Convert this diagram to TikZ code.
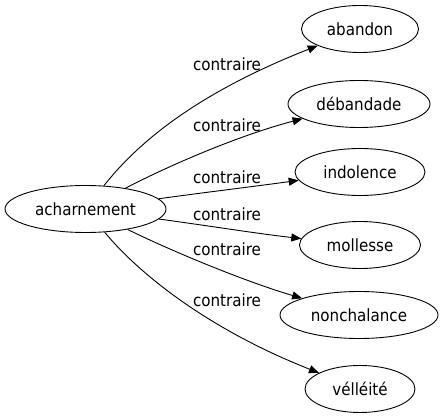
\documentclass[tikz,border=0pt]{standalone}
\usepackage{fontspec}
\setmainfont{DejaVu Sans Condensed}
\usetikzlibrary{shapes.geometric,arrows.meta}
\tikzset{
  word/.style={ellipse,draw,line width=0.9pt,inner sep=0pt,font=\fontsize{16.8}{18}\selectfont},
  rel/.style={font=\fontsize{16.8}{18}\selectfont,inner sep=0pt},
  link/.style={line width=0.9pt,-{Triangle[length=10pt,width=8pt]}}
}
\begin{document}
\begin{tikzpicture}[x=1pt,y=-1pt]
\useasboundingbox (0,0) rectangle (444,419);
\node[word,minimum width=161pt,minimum height=47pt] (src) at (85.5,209) {acharnement};
\node[word,minimum width=117pt,minimum height=47pt] (t1) at (360,29) {abandon};
\node[word,minimum width=142pt,minimum height=47pt] (t2) at (359,104) {débandade};
\node[word,minimum width=130pt,minimum height=47pt] (t3) at (360,172) {indolence};
\node[word,minimum width=121pt,minimum height=47pt] (t4) at (360,245) {mollesse};
\node[word,minimum width=158pt,minimum height=47pt] (t5) at (359,315) {nonchalance};
\node[word,minimum width=110pt,minimum height=47pt] (t6) at (360,389) {vélléité};
\draw[link] (src) .. controls (140,140) and (200,92) .. (t1);
\draw[link] (src) .. controls (170,165) and (240,135) .. (t2);
\draw[link] (src) .. controls (200,193) and (250,187) .. (t3);
\draw[link] (src) .. controls (210,226) and (260,234) .. (t4);
\draw[link] (src) .. controls (180,255) and (250,283) .. (t5);
\draw[link] (src) .. controls (140,275) and (210,330) .. (t6);
\node[rel] (l1) at (227,64) {contraire};
\node[rel] (l2) at (227,125) {contraire};
\node[rel] (l3) at (227,177) {contraire};
\node[rel] (l4) at (227,214) {contraire};
\node[rel] (l5) at (227,249) {contraire};
\node[rel] (l6) at (227,300) {contraire};
\end{tikzpicture}
\end{document}
